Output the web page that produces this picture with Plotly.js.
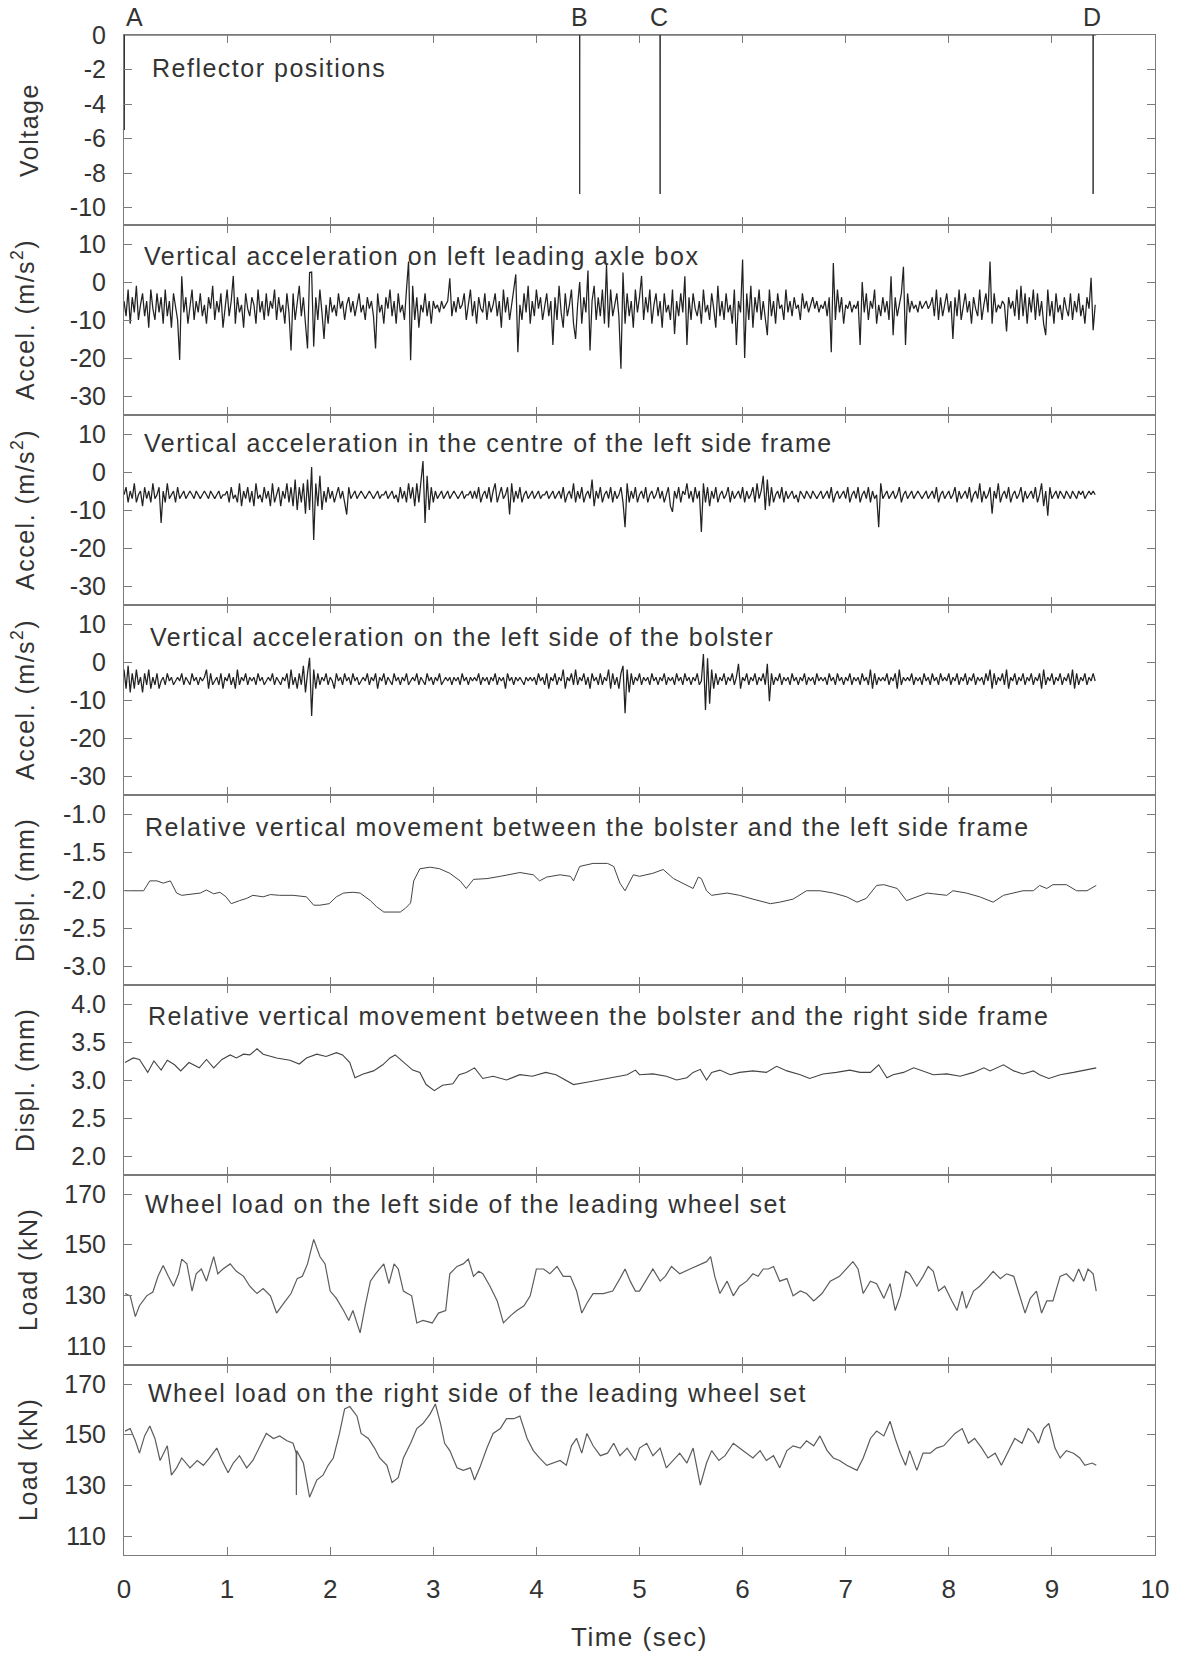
<!DOCTYPE html>
<html><head><meta charset="utf-8">
<script src="https://cdn.plot.ly/plotly-3.0.1.min.js"></script>
<style>
html,body{margin:0;padding:0;background:#fff;}
#chart{width:1182px;height:1657px;}
.annotation-text{letter-spacing:1.5px;}
</style></head><body><div id="chart"></div><script>
// ---------------- DATA ----------------
const reflectorTime = [0.003, 4.42, 5.20, 9.40];
const reflectorVoltage = [-5.5, -9.2, -9.2, -9.2];
const reflectorLabel = ['A', 'B', 'C', 'D'];
const recordEnd = 9.43;

const sampleInterval = 0.02; // s
const axleBoxAccel = [
-5,-9,-2,-11,-4,-8,-1,-10,-6,-3,
-9,-5,-12,-2,-7,-10,-3,-8,-4,-11,
-2,-9,-5,-12,-3,-7,-10,-20.5,1.5,-8,
-4,-11,-6,-2,-10,-5,-8,-3,-9,-6,
-11,-4,-7,-1,-10,-5,-8,-3,-12,-6,
-2,-9,-5,1.6,-11,-4,-8,-6,-12,-3,
-7,-9,-4,-6,-11,-2,-8,-5,-10,-3,
-9,-5,-7,-2,-10,-4,-8,-6,-11,-3,
-8,-18,-3,-10,-6,-1,-9,-4,-11,-17.5,
2.5,2.6,-17,-4,-10,-2,-8,-15,-6,-11,
-4,-8,-6,-9,-3,-7,-5,-10,-6,-4,
-8,-5,-9,-6,-3,-8,-6,-10,-4,-7,
-5,-9,-17.5,-3,-8,-6,-11,-4,-7,-2,
-9,-5,-11,-3,-8,-6,-10,-2,5.4,-20.6,
-1,-10,-4,-12,-6,-8,-3,-9,-5,-11,
-5,-7,-6,-8,-5,-7,-6,-5,1,-9,
-5,-8,-4,-7,-6,-3,-10,-6,-2,-9,
-5,-11,-4,-7,-8,-3,-10,-5,-8,-6,
-3,-9,-5,-12,-2,-8,-4,-10,-6,-3,
2,-18.5,-6,-10,-3,-8,-1,-11,-5,-9,
-2,-7,-4,-10,-6,-3,-9,-5,-16.6,-4,
-10,-1,-8,-12,-3,-9,-6,-2,-11,-15,
-6,0,-11,-4,-8,3,-18,-5,-1,-10,
-4,-9,-2,-11,4.5,-12,-2,-9,-6,-3,
-9,-22.8,2.5,-11,-3,-9,-5,-12,-2,-8,
-4,1.6,-10,-4,-8,-2,-11,-6,-3,-9,
-5,-12,-3,-8,-6,-10,-2,-13.7,-5,-9,
-3,-8,1.5,-16.6,-4,-10,-3,-7,-9,-5,
-11,-2,-8,-6,-10,-3,-7,-12,-1,-9,
-5,-10,-3,-8,-6,-11,-2,-16.6,-5,-8,
5.9,-20,-3,-10,-1,-12,-4,-8,-2,-10,
-5,-9,-14,-2,-9,-5,-11,-3,-7,-6,
-10,-2,-8,-5,-9,-4,-7,-6,-10,-3,
-7,-5,-8,-6,-4,-7,-5,-8,-6,-7,
-5,-9,-4,-18.5,5,-10,-2,-8,-4,-11,
-6,-7,-5,-8,-6,-7,-5,-16.6,0,-8,
-3,-10,-5,-7,-2,-11,-6,-9,-4,-8,
-5,-10,1.5,-14,-4,-9,-6,-3,4,-16.6,
-3,-8,-5,-7,-6,-8,-5,-7,-6,-5,
-7,-6,-4,-9,-2,-10,-4,-9,-6,-3,
-8,-5,-15,-4,-9,-2,-10,-6,-3,-8,
-5,-11,-4,-7,-9,-2,-10,-6,-3,-8,
5.4,-11,-3,-8,-6,-7,-5,-6,-13,-4,
-7,-5,-9,-2,-10,-1,-9,-3,-11,-4,
-8,-2,-10,-3,-9,-5,-11,-14,-2,-9,
-5,-11,-3,-8,-6,-10,-4,-7,-9,-3,
-10,-5,-8,-3,-9,-6,-11,-4,-7,1.1,
-12.7,-6];
const sideFrameAccel = [
-6,-4,-8,-5,-7,-3,-8,-6,-5,-9,
-4,-7,-5,-8,-3,-7,-6,-4,-13.4,-5,
-8,-3,-7,-6,-5,-8,-4,-7,-6,-5,
-7,-6,-5,-6,-7,-5,-6,-7,-6,-5,
-6,-7,-5,-6,-7,-6,-5,-7,-6,-6,
-5,-8,-4,-7,-6,-8,-3,-9,-5,-7,
-4,-8,-5,-9,-3,-7,-6,-8,-4,-7,
-5,-9,-3,-8,-6,-4,-9,-5,-7,-3,
-8,-4,-9,-2,-10,-4,-8,-3,-11,-2,
-10,1.3,-17.9,-3,-9,-1,-10,-5,-8,-4,
-7,-5,-8,-6,-4,-7,-5,-8,-11.2,-4,
-7,-6,-5,-7,-6,-5,-6,-7,-6,-5,
-6,-7,-6,-5,-7,-6,-6,-5,-7,-6,
-5,-7,-6,-8,-4,-7,-5,-8,-3,-7,
-4,-9,-3,-8,-2,2.9,-13.4,-1,-10,-4,
-8,-5,-7,-6,-5,-7,-6,-5,-7,-6,
-5,-6,-7,-6,-5,-7,-6,-6,-5,-7,
-5,-7,-4,-8,-6,-5,-7,-4,-8,-5,
-3,-8,-6,-4,-7,-6,-4,-11.2,-3,-8,
-5,-7,-4,-8,-6,-5,-7,-6,-5,-7,
-6,-5,-7,-6,-6,-5,-7,-6,-5,-7,
-6,-5,-7,-4,-8,-6,-5,-7,-3,-8,
-5,-7,-4,-8,-6,-5,-7,-2,-9,-5,
-7,-4,-8,-6,-5,-7,-4,-8,-5,-7,
-6,-4,-8,-14.5,-3,-8,-5,-7,-4,-8,
-6,-5,-7,-4,-8,-6,-5,-7,-6,-4,
-7,-5,-8,-6,-4,-9,-10.5,-5,-7,-4,
-8,-5,-6,-3,-7,-5,-8,-4,-7,-5,
-15.8,-3,-8,-4,-9,-5,-7,-4,-8,-6,
-5,-7,-6,-4,-8,-5,-7,-6,-5,-7,
-4,-8,-5,-7,-6,-4,-8,-3,-7,-5,
-1,-10,-2,-9,-4,-8,-6,-5,-7,-4,
-8,-5,-7,-6,-5,-7,-6,-8,-5,-6,
-7,-5,-6,-7,-5,-6,-7,-6,-5,-7,
-6,-5,-7,-4,-8,-6,-5,-7,-6,-5,
-7,-4,-8,-6,-5,-7,-4,-8,-6,-5,
-7,-4,-8,-5,-7,-6,-14.5,-3,-7,-6,
-5,-7,-6,-5,-7,-6,-4,-8,-6,-5,
-7,-6,-5,-7,-6,-5,-6,-7,-6,-5,
-7,-6,-5,-7,-4,-8,-6,-5,-7,-6,
-5,-7,-6,-4,-8,-5,-7,-6,-5,-7,
-4,-8,-6,-5,-7,-3,-8,-5,-7,-6,
-4,-11,-5,-7,-3,-8,-6,-5,-7,-4,
-8,-6,-5,-7,-6,-4,-8,-5,-7,-6,
-5,-7,-4,-8,-6,-3,-9,-5,-11.5,-4,
-7,-6,-5,-7,-5,-6,-7,-5,-6,-7,
-5,-6,-7,-5,-6,-5,-7,-6,-5,-6,
-5,-6];
const bolsterAccel = [
-2,-7,-1,-8,-3,-7,-2,-6,-4,-8,
-3,-6,-2,-7,-4,-6,-3,-7,-5,-4,
-6,-3,-5,-4,-6,-5,-4,-5,-3,-6,
-4,-5,-6,-3,-5,-4,-6,-4,-5,-4,
-2,-7,-3,-6,-5,-4,-6,-3,-7,-4,
-5,-3,-6,-4,-7,-2,-6,-4,-5,-3,
-6,-4,-5,-4,-6,-3,-5,-4,-6,-5,
-4,-5,-3,-6,-4,-5,-6,-4,-5,-3,
-7,-2,-6,-4,-7,-3,-6,-1,-8,-3,
1.1,-14.2,-2,-7,-3,-6,-4,-5,-3,-6,
-4,-5,-7,-3,-5,-4,-6,-3,-5,-4,
-6,-3,-5,-4,-6,-5,-4,-5,-3,-6,
-4,-5,-3,-7,-4,-5,-3,-6,-4,-5,
-6,-3,-5,-4,-6,-4,-5,-3,-6,-5,
-4,-5,-3,-6,-4,-5,-6,-3,-5,-4,
-6,-4,-5,-3,-6,-5,-4,-5,-4,-6,
-4,-5,-4,-6,-3,-5,-4,-6,-4,-5,
-4,-5,-3,-6,-4,-5,-4,-6,-4,-5,
-3,-6,-4,-5,-4,-7,-3,-5,-4,-6,
-4,-5,-4,-5,-6,-4,-5,-4,-5,-4,
-6,-3,-5,-4,-6,-3,-7,-4,-5,-3,
-6,-4,-5,-2,-7,-4,-5,-3,-6,-2,
-6,-4,-5,-3,-6,-4,-7,-3,-5,-4,
-6,-3,-6,-4,-5,-2,-7,-3,-6,-4,
-7,-3,-1,-13.5,-2,-8,-3,-6,-4,-5,
-3,-6,-4,-5,-4,-6,-3,-5,-4,-6,
-4,-5,-3,-6,-4,-5,-4,-6,-3,-5,
-4,-6,-3,-5,-4,-6,-4,-5,-3,-6,
-5,2.1,-12.6,1,-11,-2,-7,-3,-6,-4,
-5,-3,-6,-4,-5,-3,-6,-4,-0.5,-7,
-4,-5,-3,-6,-4,-5,-3,-6,-4,-5,
-3,-6,-0.5,-10.3,-3,-6,-4,-5,-3,-6,
-4,-5,-4,-6,-3,-5,-4,-6,-4,-5,
-3,-6,-4,-5,-4,-6,-3,-5,-4,-5,
-4,-6,-3,-5,-4,-6,-3,-5,-4,-6,
-4,-5,-3,-6,-4,-5,-4,-6,-3,-5,
-4,-6,-2,-7,-3,-6,-4,-5,-4,-5,
-3,-6,-4,-5,-3,-7,-2,-6,-4,-5,
-4,-5,-3,-6,-4,-5,-4,-6,-3,-5,
-4,-6,-3,-5,-4,-6,-3,-5,-4,-5,
-3,-6,-4,-5,-3,-6,-4,-5,-3,-6,
-4,-5,-3,-6,-4,-5,-4,-6,-3,-5,
-2,-7,-3,-6,-4,-5,-3,-6,-2,-7,
-4,-5,-3,-6,-4,-5,-3,-6,-4,-5,
-3,-6,-4,-5,-3,-7,-2,-6,-4,-5,
-3,-6,-4,-5,-3,-6,-4,-5,-3,-6,
-2,-7,-3,-6,-4,-5,-3,-6,-4,-5,
-3,-5];

const dispLeftTime = [0.01,0.19,0.25,0.32,0.38,0.45,0.51,0.56,0.74,0.80,0.87,0.93,0.99,1.04,1.12,1.19,1.25,1.35,1.42,1.51,1.64,1.77,1.84,1.90,1.99,2.06,2.13,2.22,2.29,2.39,2.45,2.52,2.68,2.73,2.78,2.81,2.87,2.97,3.06,3.16,3.26,3.32,3.39,3.52,3.65,3.84,3.97,4.03,4.10,4.23,4.33,4.36,4.42,4.55,4.69,4.75,4.81,4.86,4.94,
5.00,5.13,5.23,5.33,5.46,5.52,5.57,5.60,5.65,5.70,5.85,5.97,6.10,6.27,6.36,6.49,6.62,6.75,6.88,7.01,7.11,7.20,7.30,7.37,7.50,7.59,7.69,7.79,7.85,7.98,8.04,8.17,8.30,8.43,8.53,8.63,8.72,8.82,8.88,8.95,9.01,9.14,9.24,9.34,9.43];
const dispLeftValue = [-2.01,-2.01,-1.88,-1.88,-1.91,-1.88,-2.04,-2.07,-2.04,-2.00,-2.05,-2.03,-2.09,-2.18,-2.14,-2.11,-2.07,-2.09,-2.06,-2.07,-2.07,-2.09,-2.20,-2.20,-2.18,-2.09,-2.04,-2.03,-2.04,-2.14,-2.22,-2.29,-2.29,-2.24,-2.17,-1.88,-1.72,-1.70,-1.72,-1.78,-1.88,-1.98,-1.86,-1.85,-1.82,-1.77,-1.80,-1.88,-1.83,-1.80,-1.82,-1.88,-1.69,-1.65,-1.65,-1.69,-1.91,-2.01,-1.80,
-1.82,-1.78,-1.73,-1.85,-1.94,-1.98,-1.83,-1.85,-2.01,-2.07,-2.04,-2.07,-2.12,-2.18,-2.16,-2.12,-2.01,-2.01,-2.04,-2.09,-2.16,-2.11,-1.94,-1.93,-1.98,-2.14,-2.09,-2.04,-2.05,-2.07,-2.01,-2.04,-2.09,-2.16,-2.07,-2.04,-2.01,-2.01,-1.94,-1.98,-1.93,-1.93,-2.01,-2.01,-1.94];

const dispRightTime = [0.01,0.09,0.15,0.23,0.29,0.36,0.42,0.49,0.55,0.63,0.73,0.80,0.87,0.95,1.03,1.09,1.16,1.22,1.29,1.35,1.48,1.61,1.70,1.77,1.87,1.96,2.06,2.12,2.19,2.24,2.32,2.42,2.51,2.58,2.63,2.71,2.80,2.87,2.93,3.01,3.09,3.19,3.25,3.32,3.40,3.48,3.58,3.71,3.84,3.96,4.09,4.19,4.29,4.36,4.49,4.62,4.75,4.88,4.96,
5.00,5.13,5.26,5.36,5.46,5.52,5.59,5.65,5.70,5.78,5.88,5.97,6.10,6.23,6.33,6.43,6.56,6.65,6.78,6.91,7.04,7.14,7.24,7.32,7.40,7.46,7.56,7.66,7.75,7.85,7.98,8.11,8.24,8.34,8.40,8.53,8.63,8.72,8.82,8.88,8.97,9.08,9.21,9.34,9.43];
const dispRightValue = [3.23,3.29,3.27,3.10,3.25,3.13,3.26,3.20,3.12,3.23,3.16,3.27,3.16,3.27,3.33,3.29,3.34,3.33,3.41,3.34,3.29,3.26,3.21,3.29,3.34,3.31,3.36,3.33,3.23,3.03,3.08,3.12,3.20,3.29,3.33,3.23,3.13,3.10,2.94,2.86,2.93,2.95,3.07,3.10,3.16,3.02,3.05,3.00,3.07,3.05,3.10,3.07,3.00,2.94,2.97,3.00,3.03,3.07,3.13,
3.07,3.08,3.05,3.00,3.03,3.10,3.14,3.00,3.10,3.13,3.07,3.10,3.12,3.10,3.18,3.12,3.07,3.02,3.08,3.10,3.13,3.10,3.10,3.20,3.03,3.07,3.10,3.16,3.12,3.07,3.08,3.05,3.10,3.16,3.12,3.20,3.12,3.08,3.12,3.07,3.02,3.07,3.10,3.13,3.16];

const loadLeftTime = [0.01,0.06,0.11,0.15,0.22,0.28,0.33,0.38,0.43,0.48,0.53,0.56,0.61,0.66,0.70,0.75,0.80,0.87,0.91,0.96,1.03,1.09,1.16,1.22,1.29,1.35,1.42,1.48,1.55,1.62,1.68,1.73,1.78,1.84,1.90,1.95,2.00,2.06,2.13,2.18,2.22,2.29,2.34,2.39,2.44,2.52,2.57,2.62,2.66,2.71,2.79,2.84,2.90,2.99,3.05,3.12,3.16,3.23,3.29,3.34,3.39,3.44,3.48,3.55,3.62,3.68,3.75,3.81,3.88,3.94,4.00,4.07,4.13,4.20,4.26,4.33,4.39,4.44,4.49,4.55,4.65,4.74,4.81,4.86,4.91,4.96,
5.00,5.07,5.13,5.20,5.25,5.31,5.39,5.49,5.59,5.65,5.69,5.73,5.78,5.85,5.91,5.97,6.04,6.10,6.15,6.20,6.25,6.30,6.36,6.43,6.49,6.56,6.62,6.69,6.77,6.85,6.94,7.01,7.07,7.12,7.17,7.24,7.30,7.37,7.43,7.48,7.53,7.58,7.62,7.69,7.75,7.80,7.85,7.90,7.96,8.03,8.08,8.13,8.17,8.24,8.30,8.37,8.43,8.50,8.56,8.63,8.69,8.74,8.79,8.85,8.90,8.95,9.01,9.08,9.14,9.21,9.26,9.31,9.35,9.40,9.43];
const loadLeftValue = [130.7,129.8,121.6,125.9,129.8,131.3,137.5,141.8,137.5,133.6,138.5,144.3,142.4,131.7,138.5,140.4,135.6,145.3,138.5,140.4,142.4,139.5,137.5,133.6,130.7,132.7,129.8,123.0,126.9,130.7,136.6,137.5,142.4,152.1,145.3,142.4,131.7,128.8,124.0,120.1,124.0,115.2,125.9,135.6,138.5,142.4,134.6,142.4,140.4,131.7,129.8,119.1,120.1,119.1,123.0,124.0,138.5,141.4,142.4,144.3,137.5,139.5,138.5,133.6,127.8,119.1,122.0,124.0,125.9,129.8,140.4,140.4,138.5,141.4,137.5,137.5,131.7,123.0,126.9,130.7,130.7,131.7,136.6,140.4,135.6,131.7,
131.7,136.6,140.4,135.6,137.5,141.4,138.5,140.4,142.4,143.3,145.3,137.5,130.7,135.6,129.8,133.6,135.6,138.5,137.5,140.4,140.4,141.4,135.6,136.6,129.8,131.7,130.7,127.8,130.7,135.6,137.5,140.4,143.3,140.4,130.7,135.6,134.6,128.8,134.6,124.0,129.8,139.5,138.5,133.6,137.5,141.4,139.5,131.7,133.6,127.8,124.0,131.7,124.9,131.7,133.6,136.6,139.5,136.6,138.5,137.5,129.8,123.0,128.8,131.7,123.0,127.8,127.8,137.5,138.5,135.6,140.4,135.6,140.4,138.5,131.7];

const loadRightTime = [0.01,0.06,0.11,0.15,0.20,0.25,0.30,0.35,0.42,0.46,0.51,0.56,0.64,0.71,0.77,0.83,0.90,0.95,1.01,1.06,1.12,1.19,1.25,1.33,1.38,1.45,1.51,1.58,1.64,1.67,1.672,1.675,1.74,1.80,1.87,1.93,1.98,2.03,2.09,2.14,2.19,2.26,2.30,2.37,2.43,2.48,2.55,2.60,2.66,2.71,2.78,2.84,2.90,2.97,3.02,3.07,3.11,3.16,3.23,3.29,3.36,3.40,3.45,3.52,3.58,3.65,3.71,3.78,3.84,3.91,3.97,4.03,4.10,4.16,4.23,4.29,4.34,4.39,4.44,4.49,4.55,4.62,4.69,4.75,4.81,4.88,4.96,
5.00,5.07,5.13,5.20,5.26,5.33,5.39,5.46,5.52,5.59,5.65,5.70,5.77,5.83,5.91,5.97,6.04,6.10,6.17,6.23,6.30,6.36,6.43,6.49,6.56,6.62,6.69,6.75,6.82,6.88,6.94,7.01,7.11,7.17,7.24,7.30,7.37,7.43,7.48,7.53,7.58,7.62,7.69,7.75,7.82,7.88,7.95,8.01,8.06,8.13,8.19,8.25,8.32,8.38,8.45,8.51,8.58,8.64,8.71,8.77,8.82,8.87,8.92,8.97,9.03,9.08,9.14,9.21,9.27,9.32,9.39,9.43];
const loadRightValue = [151.4,152.4,147.6,142.7,149.5,153.4,148.5,139.8,145.6,134.0,136.9,140.8,136.9,139.8,137.9,140.8,144.7,139.8,135.0,138.8,141.7,136.9,139.8,146.6,150.5,148.5,149.5,147.6,146.6,142.7,126.2,143.7,138.8,125.3,132.1,134.0,137.9,140.8,150.5,160.2,161.1,157.3,150.5,148.5,144.7,140.8,137.9,131.1,133.0,140.8,146.6,152.4,154.4,158.2,162.1,154.4,146.6,143.7,136.9,135.9,136.9,132.1,136.9,144.7,150.5,152.4,156.3,156.3,157.3,148.5,143.7,140.8,137.9,138.8,139.8,137.9,145.6,148.5,142.7,150.5,145.6,141.7,142.7,146.6,141.7,144.7,139.8,
144.7,146.6,141.7,144.7,136.9,139.8,142.7,138.8,144.7,130.1,138.8,143.7,139.8,141.7,146.6,144.7,142.7,140.8,143.7,139.8,141.7,136.9,143.7,145.6,144.7,147.6,145.6,149.5,143.7,140.8,139.8,137.9,135.9,140.8,148.5,151.4,149.5,155.3,148.5,142.7,137.9,143.7,135.9,142.7,142.7,144.7,145.6,148.5,150.5,152.4,146.6,148.5,144.7,140.8,142.7,137.9,143.7,148.5,146.6,152.4,150.5,146.6,152.4,154.4,144.7,140.8,143.7,142.7,140.8,137.9,138.8,137.9];

const panelTitles = [
  'Reflector positions',
  'Vertical acceleration on left leading axle box',
  'Vertical acceleration in the centre of the left side frame',
  'Vertical acceleration on the left side of the bolster',
  'Relative vertical movement between the bolster and the left side frame',
  'Relative vertical movement between the bolster and the right side frame',
  'Wheel load on the left side of the leading wheel set',
  'Wheel load on the right side of the leading wheel set'];
const yTitles = ['Voltage','Accel. (m/s<sup>2</sup>)','Accel. (m/s<sup>2</sup>)','Accel. (m/s<sup>2</sup>)','Displ. (mm)','Displ. (mm)','Load (kN)','Load (kN)'];
const yTickValues = [[0,-2,-4,-6,-8,-10],[10,0,-10,-20,-30],[10,0,-10,-20,-30],[10,0,-10,-20,-30],[-1,-1.5,-2,-2.5,-3],[4,3.5,3,2.5,2],[170,150,130,110],[170,150,130,110]];
const yTickDecimals = [0,0,0,0,1,1,0,0];
const xTickValues = [0,1,2,3,4,5,6,7,8,9,10];
const xTitle = 'Time (sec)';

// ---------------- LAYOUT / STYLE ----------------
const W = 1182, H = 1657;
const M = {l:124, r:27, t:35, b:102};
const plotW = W - M.l - M.r, plotH = H - M.t - M.b;
const N = 8, panelH = plotH / N;
const yRanges = [[-11,0],[-35,15],[-35,15],[-35,15],[-3.25,-0.75],[1.75,4.25],[102.5,177.5],[102.5,177.5]];
const titleX = [150,142,142,148,143,146,143,146];
const titleDy = [33,31,28,32,32,31,29,28];
const yTitleX = [29,23,23,23,25,25,28,28];
const FONT = 'Liberation Sans, Arial, Helvetica, sans-serif';
const TXT = '#333333';
const AX = '#7a7a7a';
const lineColors = ['#333','#222','#222','#222','#444','#444','#5c5c5c','#5c5c5c'];
const lineWidths = [1,1.25,1.25,1.25,1,1.1,1.2,1.2];

const px2x = px => (px - M.l) / plotW;
const py2y = py => (H - M.b - py) / plotH;

// build series
const accelTime = arr => arr.map((_, i) => +(i * sampleInterval).toFixed(3));
const vx = [0], vy = [0];
reflectorTime.forEach((t, k) => { vx.push(Math.max(0,t-0.002), t, t+0.002); vy.push(0, reflectorVoltage[k], 0); });
vx.push(recordEnd); vy.push(0);

const series = [
  [vx, vy],
  [accelTime(axleBoxAccel), axleBoxAccel],
  [accelTime(sideFrameAccel), sideFrameAccel],
  [accelTime(bolsterAccel), bolsterAccel],
  [dispLeftTime, dispLeftValue],
  [dispRightTime, dispRightValue],
  [loadLeftTime, loadLeftValue],
  [loadRightTime, loadRightValue]];

const traces = [], layout = {
  width: W, height: H, margin: M, showlegend: false,
  paper_bgcolor: '#fff', plot_bgcolor: '#fff',
  font: {family: FONT, color: TXT, size: 25},
  annotations: [], hovermode: false
};

for (let i = 0; i < N; i++) {
  const sfx = i === 0 ? '' : String(i + 1);
  traces.push({type:'scatter', mode:'lines', x: series[i][0], y: series[i][1],
    xaxis: 'x' + sfx, yaxis: 'y' + sfx,
    line: {color: lineColors[i], width: lineWidths[i]}, hoverinfo: 'skip'});
  const last = i === N - 1;
  layout['xaxis' + sfx] = {
    domain: [0,1], anchor: 'y' + sfx, range: [0,10],
    showline: true, linecolor: AX, linewidth: 1, mirror: 'ticks',
    ticks: 'inside', ticklen: 8, tickcolor: AX, tickwidth: 1,
    tickvals: xTickValues, ticktext: xTickValues.map(String),
    showticklabels: last, ticklabelstandoff: 11,
    tickfont: {family: FONT, size: 26, color: TXT},
    showgrid: false, zeroline: false, fixedrange: true
  };
  const top = 1 - i / N, bot = 1 - (i + 1) / N;
  layout['yaxis' + sfx] = {
    domain: [bot, top], anchor: 'x' + sfx, range: yRanges[i],
    showline: true, linecolor: AX, linewidth: 1, mirror: 'ticks',
    ticks: 'inside', ticklen: 8, tickcolor: AX, tickwidth: 1,
    tickvals: yTickValues[i], ticktext: yTickValues[i].map(v => v.toFixed(yTickDecimals[i])),
    ticklabelstandoff: 12,
    tickfont: {family: FONT, size: 25, color: TXT},
    showgrid: false, zeroline: false, fixedrange: true
  };
  const panelTop = M.t + i * panelH;
  layout.annotations.push({xref:'paper', yref:'paper', x: px2x(titleX[i]), y: py2y(panelTop + titleDy[i]),
    xanchor:'left', yanchor:'middle', showarrow:false, text: panelTitles[i],
    font:{family: FONT, size: 25, color: TXT}});
  layout.annotations.push({xref:'paper', yref:'paper', x: px2x(yTitleX[i]), y: py2y(panelTop + panelH/2),
    xanchor:'center', yanchor:'middle', showarrow:false, textangle:-90, text: yTitles[i],
    font:{family: FONT, size: 25, color: TXT}});
}
reflectorTime.forEach((t, k) => {
  layout.annotations.push({xref:'x', yref:'paper', x: k === 0 ? 0 : t, y: py2y(17),
    xanchor: k === 0 ? 'left' : 'center', yanchor:'middle', showarrow:false, text: reflectorLabel[k],
    font:{family: FONT, size: 25, color: TXT}});
});
layout.annotations.push({xref:'paper', yref:'paper', x: 0.5, y: py2y(1637), xanchor:'center', yanchor:'middle',
  showarrow:false, text: xTitle, font:{family: FONT, size: 26, color: TXT}});

Plotly.newPlot('chart', traces, layout, {staticPlot: true, displayModeBar: false});
</script></body></html>
